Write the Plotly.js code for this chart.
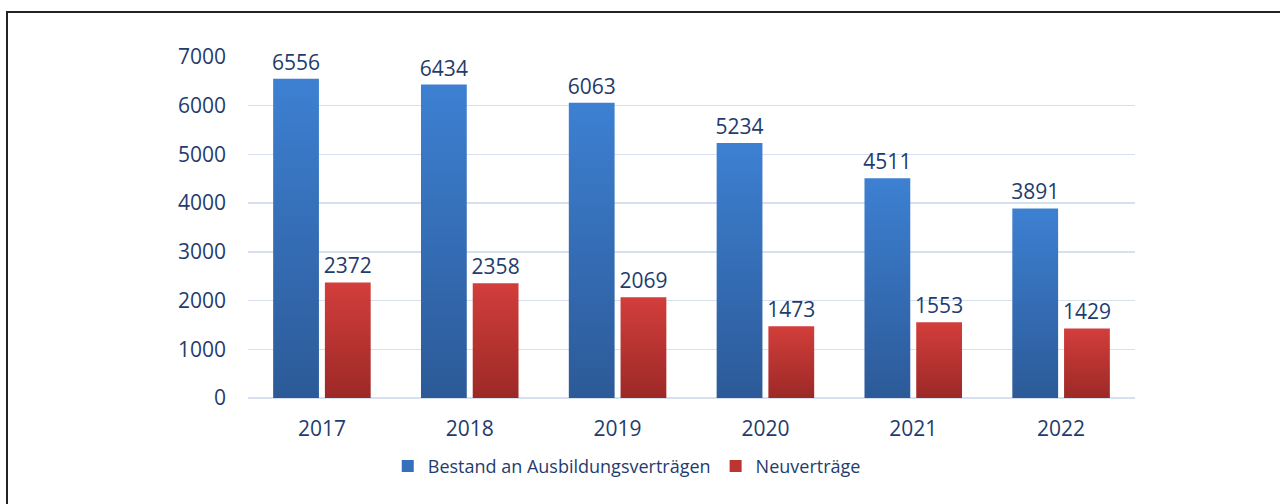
<!DOCTYPE html>
<html>
<head>
<meta charset="utf-8">
<script src="https://cdn.plot.ly/plotly-3.0.1.min.js"></script>
<style>
  html, body { margin: 0; padding: 0; background: #fff; }
  #wrap { position: relative; width: 1280px; height: 504px; overflow: hidden; }
  #frame { position: absolute; left: 6px; top: 11px; width: 1300px; height: 600px;
           border-top: 2px solid #222; border-left: 2px solid #222; pointer-events: none; }
  #chart { position: absolute; left: 0; top: 0; width: 1280px; height: 504px; }
</style>
</head>
<body>
<div id="wrap">
  <div id="chart"></div>
  <div id="frame"></div>
</div>
<script>
const years = ['2017', '2018', '2019', '2020', '2021', '2022'];
const bestand = [6556, 6434, 6063, 5234, 4511, 3891];
const neu = [2372, 2358, 2069, 1473, 1553, 1429];
const seriesNames = ['Bestand an Ausbildungsverträgen', 'Neuverträge'];
const yTicks = [0, 1000, 2000, 3000, 4000, 5000, 6000, 7000];

const txtColor = '#1f3c6e';
const font = 'Open Sans, sans-serif';

const traces = [
  {
    type: 'bar', name: seriesNames[0], x: years, y: bestand,
    marker: { color: '#3470bb' },
    text: bestand.map(String), textposition: 'outside', cliponaxis: false,
    constraintext: 'none',
    textfont: { family: font, size: 21, color: txtColor }
  },
  {
    type: 'bar', name: seriesNames[1], x: years, y: neu,
    marker: { color: '#bc3533' },
    text: neu.map(String), textposition: 'outside', cliponaxis: false,
    constraintext: 'none',
    textfont: { family: font, size: 21, color: txtColor }
  }
];

const layout = {
  width: 1280, height: 504,
  margin: { l: 248, r: 145, t: 57, b: 106 },
  paper_bgcolor: 'rgba(0,0,0,0)', plot_bgcolor: 'rgba(0,0,0,0)',
  barmode: 'group', bargap: 0.3, bargroupgap: 0.115,
  font: { family: font, color: txtColor, size: 21 },
  showlegend: true,
  legend: {
    orientation: 'h', x: 0.427, xanchor: 'center', y: -0.2, yanchor: 'middle',
    font: { family: font, size: 18, color: txtColor }, itemclick: false
  },
  xaxis: {
    type: 'category', tickfont: { family: font, size: 21, color: txtColor },
    showgrid: false, zeroline: false, showline: false, ticks: '',
    ticklabelstandoff: 16
  },
  yaxis: {
    range: [0, 7000], tickvals: yTicks, ticktext: yTicks.map(String),
    tickfont: { family: font, size: 21, color: txtColor },
    showgrid: true, gridcolor: '#d6e0ee', gridwidth: 1.5,
    zeroline: true, zerolinecolor: '#d6e0ee', zerolinewidth: 1.5,
    showline: false, ticks: '', ticklabelstandoff: 21
  }
};

Plotly.newPlot('chart', traces, layout, { displayModeBar: false, staticPlot: true }).then(function (gd) {
  const svg = gd.querySelector('svg.main-svg');
  const ns = 'http://www.w3.org/2000/svg';
  let defs = svg.querySelector('defs');
  if (!defs) { defs = document.createElementNS(ns, 'defs'); svg.insertBefore(defs, svg.firstChild); }
  function grad(id, top, bottom) {
    const g = document.createElementNS(ns, 'linearGradient');
    g.setAttribute('id', id);
    g.setAttribute('x1', '0'); g.setAttribute('y1', '0');
    g.setAttribute('x2', '0'); g.setAttribute('y2', '1');
    [[0, top], [1, bottom]].forEach(function (s) {
      const st = document.createElementNS(ns, 'stop');
      st.setAttribute('offset', s[0]);
      st.setAttribute('stop-color', s[1]);
      g.appendChild(st);
    });
    defs.appendChild(g);
  }
  grad('gBlue', '#3d80d2', '#2c5a98');
  grad('gRed', '#d23e3b', '#9c2927');
  const groups = gd.querySelectorAll('.barlayer .trace.bars');
  const ids = ['gBlue', 'gRed'];
  groups.forEach(function (tr, i) {
    tr.querySelectorAll('path').forEach(function (p) {
      p.style.fill = 'url(#' + ids[i] + ')';
    });
  });
});
</script>
</body>
</html>
